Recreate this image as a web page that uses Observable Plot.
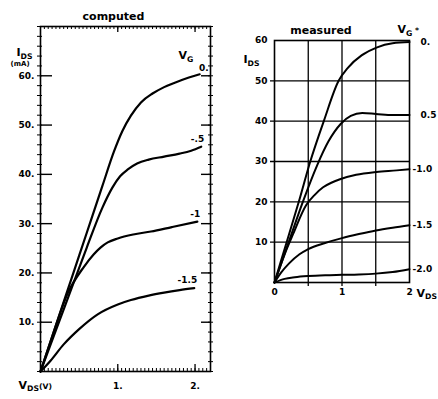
<!DOCTYPE html>
<html><head><meta charset="utf-8">
<script src="https://cdn.jsdelivr.net/npm/d3@7"></script>
<script src="https://cdn.jsdelivr.net/npm/@observablehq/plot@0.6"></script>
<style>
body{margin:0;background:#fff;}
#wrap{position:relative;width:438px;height:399px;overflow:hidden;background:#fff;}
#wrap svg{position:absolute;top:0;}
</style></head><body><div id="wrap"></div>
<script>
// ---------- computed (left panel) ----------
const compVG = ["0.", "-.5", "-1", "-1.5"];
const compVds0 = [0, 0.2, 0.4, 0.6, 0.8, 0.95, 1.06, 1.17, 1.3, 1.45, 1.6, 1.82, 2.06];
const compIds0 = [0, 9.4, 18.8, 28.2, 37.6, 44.6, 48.8, 51.9, 54.6, 56.4, 57.7, 59.1, 60.3];
const compVds1 = [0, 0.2, 0.4, 0.6, 0.8, 0.93, 1.03, 1.13, 1.25, 1.4, 1.6, 1.8, 1.95, 2.08];
const compIds1 = [0, 8.4, 16.8, 25.2, 33.2, 37.3, 39.6, 41.0, 42.2, 43.0, 43.6, 44.2, 44.8, 45.6];
const compVds2 = [0, 0.15, 0.35, 0.56, 0.69, 0.78, 0.87, 1.0, 1.2, 1.43, 1.7, 2.03];
const compIds2 = [0, 7, 15.8, 21.2, 23.8, 25.2, 26.2, 27.0, 27.8, 28.4, 29.3, 30.4];
const compVds3 = [0, 0.13, 0.3, 0.5, 0.74, 1.0, 1.17, 1.4, 1.6, 1.8, 1.99];
const compIds3 = [0, 2.2, 5.5, 8.6, 11.6, 13.6, 14.5, 15.4, 16.0, 16.5, 16.9];
const compXTicks = [1, 2];
const compYTicks = [10, 20, 30, 40, 50, 60];

// ---------- measured (right panel) ----------
const measVG = ["0.", "0.5", "-1.0", "-1.5", "-2.0"];
const measVds0 = [0, 0.18, 0.36, 0.53, 0.73, 0.95, 1.09, 1.29, 1.52, 1.75, 2.0];
const measIds0 = [0, 10, 20, 30, 40, 50, 53.3, 56.3, 58.3, 59.3, 59.6];
const measVds1 = [0, 0.21, 0.42, 0.63, 0.8, 0.98, 1.13, 1.3, 1.5, 1.75, 2.0];
const measIds1 = [0, 10, 20, 29, 35, 39.3, 41.3, 42, 41.8, 41.5, 41.5];
const measVds2 = [0, 0.15, 0.27, 0.47, 0.6, 0.72, 0.85, 0.97, 1.21, 1.51, 1.81, 2.0];
const measIds2 = [0, 7, 11.8, 19.2, 21.8, 23.6, 24.8, 25.6, 26.7, 27.4, 27.8, 28.1];
const measVds3 = [0, 0.1, 0.22, 0.37, 0.5, 0.75, 1.0, 1.25, 1.5, 1.75, 2.0];
const measIds3 = [0, 2.5, 4.8, 7.0, 8.3, 9.8, 11.0, 12.0, 12.9, 13.6, 14.2];
const measVds4 = [0, 0.15, 0.3, 0.5, 0.75, 1.0, 1.25, 1.5, 1.75, 2.0];
const measIds4 = [0, 0.9, 1.3, 1.6, 1.8, 1.9, 2.0, 2.2, 2.6, 3.3];
const measXTicks = [0, 1, 2];
const measYTicks = [10, 20, 30, 40, 50, 60];
const measGridX = [0.5, 1, 1.5];
const measGridY = [10, 20, 30, 40, 50];

function rows(labels, xs, ys) {
  return labels.flatMap((vg, k) => xs[k].map((v, i) => ({vg, vds: v, ids: ys[k][i]})));
}
const compRows = rows(compVG, [compVds0, compVds1, compVds2, compVds3], [compIds0, compIds1, compIds2, compIds3]);
const measRows = rows(measVG, [measVds0, measVds1, measVds2, measVds3, measVds4], [measIds0, measIds1, measIds2, measIds3, measIds4]);

const font = {fontFamily: "'DejaVu Sans', sans-serif", fontSize: "9px", fontWeight: "bold", background: "white", color: "black"};

// left panel geometry
const LW = 220, LH = 399, LmL = 40, LmR = 10, LmT = 26, LmB = 28;
const LiW = LW - LmL - LmR, LiH = LH - LmT - LmB;
const minorX = d3.range(0, 2.2001, 0.05);
const minorY = d3.range(0, 70.001, 2);

const left = Plot.plot({
  width: LW, height: LH, marginLeft: LmL, marginRight: LmR, marginTop: LmT, marginBottom: LmB,
  style: font,
  x: {domain: [0, 2.2], ticks: compXTicks, tickFormat: d => d + ".", tickSize: 0, tickPadding: 11, label: null},
  y: {domain: [0, 70], ticks: compYTicks, tickFormat: d => d + ".", tickSize: 0, tickPadding: 6, label: null},
  marks: [
    Plot.frame({strokeWidth: 1.6}),
    Plot.tickX(minorX, {x: d => d, insetTop: LiH - 3}),
    Plot.tickX(compXTicks, {x: d => d, insetTop: LiH - 7, strokeWidth: 1.3}),
    Plot.tickX(minorX, {x: d => d, insetBottom: LiH - 3}),
    Plot.tickX(compXTicks, {x: d => d, insetBottom: LiH - 6, strokeWidth: 1.3}),
    Plot.tickY(minorY, {y: d => d, insetLeft: -3, insetRight: LiW - 2}),
    Plot.tickY(compYTicks, {y: d => d, insetRight: LiW - 12, strokeWidth: 1.4}),
    Plot.tickY(minorY, {y: d => d, insetLeft: LiW - 2, insetRight: -3}),
    Plot.tickY(compYTicks, {y: d => d, insetLeft: LiW - 9, strokeWidth: 1.4}),
    Plot.line(compRows, {x: "vds", y: "ids", z: "vg", curve: "monotone-x", stroke: "black", strokeWidth: 2.2}),
    Plot.text(compRows.filter(d => d.vg === "0."), Plot.selectLast({x: "vds", y: "ids", z: "vg", text: "vg", textAnchor: "end", dx: 9, dy: -6, fontSize: 9})),
    Plot.text(compRows.filter(d => d.vg !== "0."), Plot.selectLast({x: "vds", y: "ids", z: "vg", text: "vg", textAnchor: "end", dx: 3, dy: -8, fontSize: 9})),
    Plot.text(["computed"], {text: d => d, frameAnchor: "top", dx: -12, dy: -14, fontSize: 11}),
    Plot.text(["I_DS"], {text: d => d, frameAnchor: "top-left", dx: -24, dy: 22, textAnchor: "start", fontSize: 11}),
    Plot.text(["(mA)"], {text: d => d, frameAnchor: "top-left", dx: -30, dy: 35, textAnchor: "start", fontSize: 7}),
    Plot.text(["V_G"], {text: d => d, frameAnchor: "top-right", dx: -32, dy: 25, textAnchor: "start", fontSize: 11}),
    Plot.text(["V_DS(V)"], {text: d => d, frameAnchor: "bottom-left", dx: -22, dy: 17, textAnchor: "start", fontSize: 11})
  ]
});

// right panel geometry
const RW = 218, RH = 399, RmL = 54, RmR = 29, RmT = 40, RmB = 117;

const right = Plot.plot({
  width: RW, height: RH, marginLeft: RmL, marginRight: RmR, marginTop: RmT, marginBottom: RmB,
  style: font,
  x: {domain: [0, 2], ticks: measXTicks, tickFormat: d => String(d), tickSize: 0, tickPadding: 6, label: null},
  y: {domain: [0, 60], ticks: measYTicks, tickFormat: d => String(d), tickSize: 0, tickPadding: 7, label: null},
  marks: [
    Plot.ruleX(measGridX, {x: d => d, insetBottom: -4, strokeWidth: 1.3}),
    Plot.ruleY(measGridY, {y: d => d, insetLeft: -4, strokeWidth: 1.3}),
    Plot.frame({strokeWidth: 1.6}),
    Plot.line(measRows, {x: "vds", y: "ids", z: "vg", curve: "monotone-x", stroke: "black", strokeWidth: 2}),
    Plot.text(measRows.filter(d => !d.vg.startsWith("-")), Plot.selectLast({x: "vds", y: "ids", z: "vg", text: "vg", textAnchor: "start", dx: 11, dy: 0, fontSize: 9})),
    Plot.text(measRows.filter(d => d.vg.startsWith("-")), Plot.selectLast({x: "vds", y: "ids", z: "vg", text: "vg", textAnchor: "start", dx: 3, dy: 0, fontSize: 9})),
    Plot.text(["measured"], {text: d => d, frameAnchor: "top", dx: -21, dy: -14, fontSize: 11}),
    Plot.text(["V_G *"], {text: d => d, frameAnchor: "top-right", dx: -12, dy: -15, textAnchor: "start", fontSize: 11}),
    Plot.text(["I_DS"], {text: d => d, frameAnchor: "top-left", dx: -31, dy: 15, textAnchor: "start", fontSize: 11}),
    Plot.text(["V_DS"], {text: d => d, frameAnchor: "bottom-right", dx: 7, dy: 14, textAnchor: "start", fontSize: 11})
  ]
});

function subscriptify(svg) {
  const ns = "http://www.w3.org/2000/svg";
  svg.querySelectorAll("text").forEach(t => {
    const s = t.textContent;
    const m = s.match(/^([^_]*)_([A-Z]+)(.*)$/);
    if (!m) return;
    t.textContent = "";
    const a = document.createElementNS(ns, "tspan"); a.textContent = m[1]; t.appendChild(a);
    const b = document.createElementNS(ns, "tspan"); b.textContent = m[2];
    b.setAttribute("font-size", "0.7em"); b.setAttribute("dy", "0.35em"); t.appendChild(b);
    if (m[3]) {
      const c = document.createElementNS(ns, "tspan"); c.textContent = m[3];
      c.setAttribute("font-size", "0.7em"); c.setAttribute("dy", "-0.35em"); t.appendChild(c);
    }
  });
}
subscriptify(left); subscriptify(right);
left.style.left = "0px"; right.style.left = "220px";
const wrap = document.getElementById("wrap");
wrap.appendChild(left); wrap.appendChild(right);
</script></body></html>
